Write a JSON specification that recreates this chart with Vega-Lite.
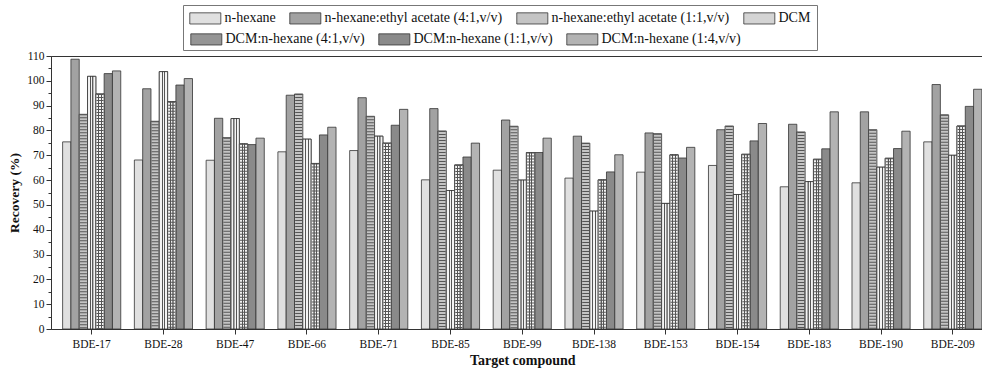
{
  "$schema": "https://vega.github.io/schema/vega-lite/v6.json",
  "width": 931,
  "height": 273,
  "autosize": {"type": "none"},
  "padding": {"left": 51, "top": 56, "right": 0, "bottom": 39},
  "background": "white",
  "config": {
    "view": {"stroke": "#333", "strokeWidth": 1},
    "font": "Liberation Serif",
    "axis": {"labelFont": "Liberation Serif", "titleFont": "Liberation Serif", "labelColor": "#111", "titleColor": "#111", "domainColor": "#333", "tickColor": "#333", "grid": false},
    "legend": {"labelFont": "Liberation Serif", "titleFont": "Liberation Serif"}
  },
  "data": {"values": [
    {"compound": "BDE-17", "series": "n-hexane", "recovery": 75.4},
    {"compound": "BDE-17", "series": "n-hexane:ethyl acetate (4:1,v/v)", "recovery": 108.7},
    {"compound": "BDE-17", "series": "n-hexane:ethyl acetate (1:1,v/v)", "recovery": 86.5},
    {"compound": "BDE-17", "series": "DCM", "recovery": 101.8},
    {"compound": "BDE-17", "series": "DCM:n-hexane (4:1,v/v)", "recovery": 94.7},
    {"compound": "BDE-17", "series": "DCM:n-hexane (1:1,v/v)", "recovery": 102.9},
    {"compound": "BDE-17", "series": "DCM:n-hexane (1:4,v/v)", "recovery": 104.0},
    {"compound": "BDE-28", "series": "n-hexane", "recovery": 68.1},
    {"compound": "BDE-28", "series": "n-hexane:ethyl acetate (4:1,v/v)", "recovery": 96.8},
    {"compound": "BDE-28", "series": "n-hexane:ethyl acetate (1:1,v/v)", "recovery": 83.7},
    {"compound": "BDE-28", "series": "DCM", "recovery": 103.7},
    {"compound": "BDE-28", "series": "DCM:n-hexane (4:1,v/v)", "recovery": 91.6},
    {"compound": "BDE-28", "series": "DCM:n-hexane (1:1,v/v)", "recovery": 98.3},
    {"compound": "BDE-28", "series": "DCM:n-hexane (1:4,v/v)", "recovery": 100.9},
    {"compound": "BDE-47", "series": "n-hexane", "recovery": 68.0},
    {"compound": "BDE-47", "series": "n-hexane:ethyl acetate (4:1,v/v)", "recovery": 84.9},
    {"compound": "BDE-47", "series": "n-hexane:ethyl acetate (1:1,v/v)", "recovery": 77.1},
    {"compound": "BDE-47", "series": "DCM", "recovery": 84.8},
    {"compound": "BDE-47", "series": "DCM:n-hexane (4:1,v/v)", "recovery": 74.6},
    {"compound": "BDE-47", "series": "DCM:n-hexane (1:1,v/v)", "recovery": 74.3},
    {"compound": "BDE-47", "series": "DCM:n-hexane (1:4,v/v)", "recovery": 76.9},
    {"compound": "BDE-66", "series": "n-hexane", "recovery": 71.4},
    {"compound": "BDE-66", "series": "n-hexane:ethyl acetate (4:1,v/v)", "recovery": 94.2},
    {"compound": "BDE-66", "series": "n-hexane:ethyl acetate (1:1,v/v)", "recovery": 94.7},
    {"compound": "BDE-66", "series": "DCM", "recovery": 76.5},
    {"compound": "BDE-66", "series": "DCM:n-hexane (4:1,v/v)", "recovery": 66.7},
    {"compound": "BDE-66", "series": "DCM:n-hexane (1:1,v/v)", "recovery": 78.2},
    {"compound": "BDE-66", "series": "DCM:n-hexane (1:4,v/v)", "recovery": 81.3},
    {"compound": "BDE-71", "series": "n-hexane", "recovery": 71.9},
    {"compound": "BDE-71", "series": "n-hexane:ethyl acetate (4:1,v/v)", "recovery": 93.2},
    {"compound": "BDE-71", "series": "n-hexane:ethyl acetate (1:1,v/v)", "recovery": 85.7},
    {"compound": "BDE-71", "series": "DCM", "recovery": 77.7},
    {"compound": "BDE-71", "series": "DCM:n-hexane (4:1,v/v)", "recovery": 74.9},
    {"compound": "BDE-71", "series": "DCM:n-hexane (1:1,v/v)", "recovery": 82.1},
    {"compound": "BDE-71", "series": "DCM:n-hexane (1:4,v/v)", "recovery": 88.5},
    {"compound": "BDE-85", "series": "n-hexane", "recovery": 60.1},
    {"compound": "BDE-85", "series": "n-hexane:ethyl acetate (4:1,v/v)", "recovery": 88.8},
    {"compound": "BDE-85", "series": "n-hexane:ethyl acetate (1:1,v/v)", "recovery": 79.8},
    {"compound": "BDE-85", "series": "DCM", "recovery": 55.8},
    {"compound": "BDE-85", "series": "DCM:n-hexane (4:1,v/v)", "recovery": 66.1},
    {"compound": "BDE-85", "series": "DCM:n-hexane (1:1,v/v)", "recovery": 69.3},
    {"compound": "BDE-85", "series": "DCM:n-hexane (1:4,v/v)", "recovery": 74.9},
    {"compound": "BDE-99", "series": "n-hexane", "recovery": 64.0},
    {"compound": "BDE-99", "series": "n-hexane:ethyl acetate (4:1,v/v)", "recovery": 84.2},
    {"compound": "BDE-99", "series": "n-hexane:ethyl acetate (1:1,v/v)", "recovery": 81.7},
    {"compound": "BDE-99", "series": "DCM", "recovery": 60.0},
    {"compound": "BDE-99", "series": "DCM:n-hexane (4:1,v/v)", "recovery": 71.1},
    {"compound": "BDE-99", "series": "DCM:n-hexane (1:1,v/v)", "recovery": 71.1},
    {"compound": "BDE-99", "series": "DCM:n-hexane (1:4,v/v)", "recovery": 76.9},
    {"compound": "BDE-138", "series": "n-hexane", "recovery": 60.8},
    {"compound": "BDE-138", "series": "n-hexane:ethyl acetate (4:1,v/v)", "recovery": 77.7},
    {"compound": "BDE-138", "series": "n-hexane:ethyl acetate (1:1,v/v)", "recovery": 74.9},
    {"compound": "BDE-138", "series": "DCM", "recovery": 47.5},
    {"compound": "BDE-138", "series": "DCM:n-hexane (4:1,v/v)", "recovery": 60.1},
    {"compound": "BDE-138", "series": "DCM:n-hexane (1:1,v/v)", "recovery": 63.3},
    {"compound": "BDE-138", "series": "DCM:n-hexane (1:4,v/v)", "recovery": 70.2},
    {"compound": "BDE-153", "series": "n-hexane", "recovery": 63.2},
    {"compound": "BDE-153", "series": "n-hexane:ethyl acetate (4:1,v/v)", "recovery": 79.0},
    {"compound": "BDE-153", "series": "n-hexane:ethyl acetate (1:1,v/v)", "recovery": 78.7},
    {"compound": "BDE-153", "series": "DCM", "recovery": 50.6},
    {"compound": "BDE-153", "series": "DCM:n-hexane (4:1,v/v)", "recovery": 70.2},
    {"compound": "BDE-153", "series": "DCM:n-hexane (1:1,v/v)", "recovery": 68.9},
    {"compound": "BDE-153", "series": "DCM:n-hexane (1:4,v/v)", "recovery": 73.2},
    {"compound": "BDE-154", "series": "n-hexane", "recovery": 65.9},
    {"compound": "BDE-154", "series": "n-hexane:ethyl acetate (4:1,v/v)", "recovery": 80.3},
    {"compound": "BDE-154", "series": "n-hexane:ethyl acetate (1:1,v/v)", "recovery": 81.8},
    {"compound": "BDE-154", "series": "DCM", "recovery": 54.2},
    {"compound": "BDE-154", "series": "DCM:n-hexane (4:1,v/v)", "recovery": 70.4},
    {"compound": "BDE-154", "series": "DCM:n-hexane (1:1,v/v)", "recovery": 75.8},
    {"compound": "BDE-154", "series": "DCM:n-hexane (1:4,v/v)", "recovery": 82.8},
    {"compound": "BDE-183", "series": "n-hexane", "recovery": 57.3},
    {"compound": "BDE-183", "series": "n-hexane:ethyl acetate (4:1,v/v)", "recovery": 82.5},
    {"compound": "BDE-183", "series": "n-hexane:ethyl acetate (1:1,v/v)", "recovery": 79.4},
    {"compound": "BDE-183", "series": "DCM", "recovery": 59.4},
    {"compound": "BDE-183", "series": "DCM:n-hexane (4:1,v/v)", "recovery": 68.4},
    {"compound": "BDE-183", "series": "DCM:n-hexane (1:1,v/v)", "recovery": 72.6},
    {"compound": "BDE-183", "series": "DCM:n-hexane (1:4,v/v)", "recovery": 87.5},
    {"compound": "BDE-190", "series": "n-hexane", "recovery": 58.9},
    {"compound": "BDE-190", "series": "n-hexane:ethyl acetate (4:1,v/v)", "recovery": 87.5},
    {"compound": "BDE-190", "series": "n-hexane:ethyl acetate (1:1,v/v)", "recovery": 80.3},
    {"compound": "BDE-190", "series": "DCM", "recovery": 65.2},
    {"compound": "BDE-190", "series": "DCM:n-hexane (4:1,v/v)", "recovery": 68.8},
    {"compound": "BDE-190", "series": "DCM:n-hexane (1:1,v/v)", "recovery": 72.7},
    {"compound": "BDE-190", "series": "DCM:n-hexane (1:4,v/v)", "recovery": 79.7},
    {"compound": "BDE-209", "series": "n-hexane", "recovery": 75.4},
    {"compound": "BDE-209", "series": "n-hexane:ethyl acetate (4:1,v/v)", "recovery": 98.5},
    {"compound": "BDE-209", "series": "n-hexane:ethyl acetate (1:1,v/v)", "recovery": 86.3},
    {"compound": "BDE-209", "series": "DCM", "recovery": 70.0},
    {"compound": "BDE-209", "series": "DCM:n-hexane (4:1,v/v)", "recovery": 81.8},
    {"compound": "BDE-209", "series": "DCM:n-hexane (1:1,v/v)", "recovery": 89.7},
    {"compound": "BDE-209", "series": "DCM:n-hexane (1:4,v/v)", "recovery": 96.6}
  ]},
  "encoding": {
    "x": {
      "field": "compound", "type": "nominal", "sort": null,
      "scale": {"paddingInner": 0, "paddingOuter": 0, "range": [4.8, 937.7]},
      "axis": {"labelAngle": 0, "labelFontSize": 11.5, "tickSize": 5, "labelPadding": 4, "title": "Target compound", "titleFontSize": 14, "titleFontWeight": "bold", "titlePadding": 4}
    },
    "xOffset": {"field": "series", "type": "nominal",
      "scale": {"paddingInner": 0, "paddingOuter": 0.82, "domain": ["n-hexane", "n-hexane:ethyl acetate (4:1,v/v)", "n-hexane:ethyl acetate (1:1,v/v)", "DCM", "DCM:n-hexane (4:1,v/v)", "DCM:n-hexane (1:1,v/v)", "DCM:n-hexane (1:4,v/v)"]}},
    "y": {
      "field": "recovery", "type": "quantitative",
      "scale": {"domain": [0, 110], "nice": false},
      "axis": {
        "title": "Recovery (%)", "titleFontSize": 13.5, "titleFontWeight": "bold", "titlePadding": 5,
        "values": [0,5,10,15,20,25,30,35,40,45,50,55,60,65,70,75,80,85,90,95,100,105,110],
        "labelExpr": "datum.value % 10 === 0 ? datum.label : ''",
        "labelFontSize": 11.5, "labelPadding": 2,
        "tickSize": {"condition": {"test": "datum.value % 10 === 0", "value": 5}, "value": 3}
      }
    }
  },
  "resolve": {"scale": {"fill": "independent"}},
  "layer": [
    {
      "transform": [{"filter": "indexof(['n-hexane', 'n-hexane:ethyl acetate (4:1,v/v)', 'n-hexane:ethyl acetate (1:1,v/v)', 'DCM'], datum.series) >= 0"}],
      "mark": {"type": "bar", "stroke": "#333", "strokeWidth": 0.8, "opacity": 1},
      "encoding": {
        "fill": {
          "field": "series", "type": "nominal",
          "scale": {"domain": ["n-hexane", "n-hexane:ethyl acetate (4:1,v/v)", "n-hexane:ethyl acetate (1:1,v/v)", "DCM"], "range": ["#e0e0e0", "#a2a2a2", "#c4c4c4", "#d4d4d4"]},
          "legend": {
            "orient": "none", "legendX": 132, "legendY": -51, "title": " ", "titleOrient": "bottom", "titleFontSize": 14, "titlePadding": 4,
            "direction": "horizontal",
            "symbolType": "M-1,-0.9H4V0.9H-1Z", "symbolSize": 154, "symbolStrokeColor": "#333", "symbolStrokeWidth": 0.8,
            "labelFontSize": 14, "labelOffset": 21.5, "labelColor": "#111", "labelLimit": 400,
            "columnPadding": 12,
            "strokeColor": "#777", "fillColor": "white", "padding": 6
          }
        }
      }
    },
    {
      "transform": [{"filter": "indexof(['DCM:n-hexane (4:1,v/v)', 'DCM:n-hexane (1:1,v/v)', 'DCM:n-hexane (1:4,v/v)'], datum.series) >= 0"}],
      "mark": {"type": "bar", "stroke": "#333", "strokeWidth": 0.8, "opacity": 1},
      "encoding": {
        "fill": {
          "field": "series", "type": "nominal",
          "scale": {"domain": ["DCM:n-hexane (4:1,v/v)", "DCM:n-hexane (1:1,v/v)", "DCM:n-hexane (1:4,v/v)"], "range": ["#959595", "#8a8a8a", "#b3b3b3"]},
          "legend": {
            "orient": "none", "legendX": 139, "legendY": -24, "title": null,
            "direction": "horizontal",
            "symbolType": "M-1,-0.9H4V0.9H-1Z", "symbolSize": 154, "symbolStrokeColor": "#333", "symbolStrokeWidth": 0.8,
            "labelFontSize": 14, "labelOffset": 21.5, "labelColor": "#111", "labelLimit": 400,
            "columnPadding": 12,
            "padding": 0
          }
        }
      }
    },
    {
      "transform": [{"filter": "datum.series === 'DCM' || datum.series === 'DCM:n-hexane (4:1,v/v)'"}],
      "mark": {"type": "bar", "stroke": "#333", "strokeWidth": 0.8,
        "fill": {"gradient": "linear", "x1": 0, "y1": 0, "x2": 1, "y2": 0, "stops": [
          {"offset": 0, "color": "#f4f4f4"}, {"offset": 0.27, "color": "#f4f4f4"}, {"offset": 0.3, "color": "#555"}, {"offset": 0.4, "color": "#555"}, {"offset": 0.43, "color": "#f4f4f4"},
          {"offset": 0.57, "color": "#f4f4f4"}, {"offset": 0.6, "color": "#555"}, {"offset": 0.7, "color": "#555"}, {"offset": 0.73, "color": "#f4f4f4"}, {"offset": 1, "color": "#f4f4f4"}
        ]}},
      "encoding": {}
    },
    {
      "transform": [{"filter": "datum.series === 'n-hexane:ethyl acetate (1:1,v/v)' || datum.series === 'DCM:n-hexane (4:1,v/v)'"}],
      "mark": {"type": "rule", "color": "#555", "strokeWidth": 7, "strokeDash": [1, 2]},
      "encoding": {
        "y2": {"datum": 0}
      }
    }
  ]
}
